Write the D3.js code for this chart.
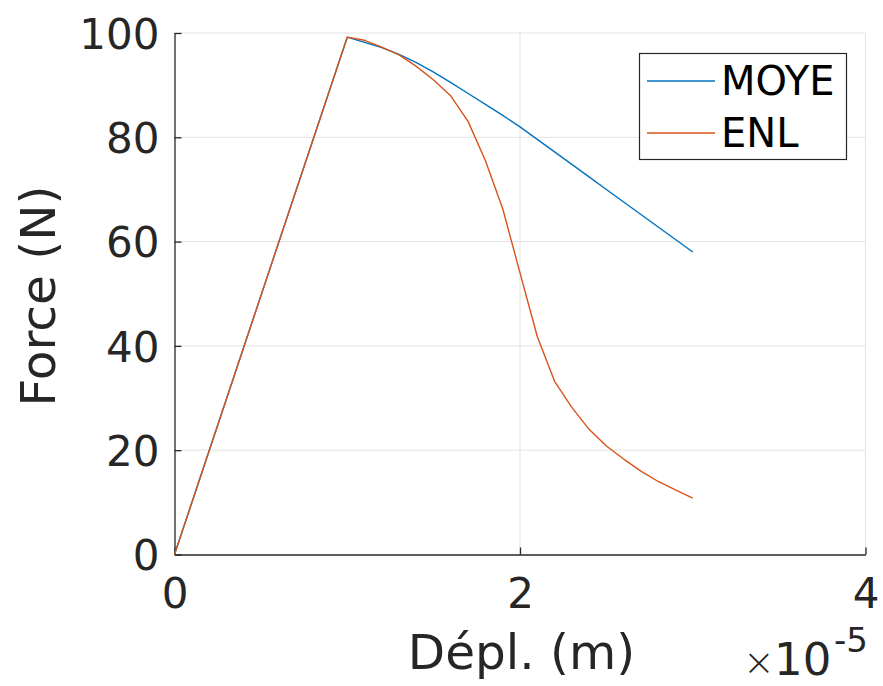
<!DOCTYPE html>
<html><head><meta charset="utf-8">
<script src="https://cdn.jsdelivr.net/npm/d3@7/dist/d3.min.js"></script>
<style>body{margin:0;background:#fff}svg{display:block}text{font-family:"DejaVu Sans",sans-serif}</style>
</head><body>
<script>
// displacement in units of 1e-5 m
const xMoye = [0, 1.0, 1.1, 1.2, 1.3, 1.4, 1.5, 1.6, 1.7, 1.8, 1.9, 2.0, 2.1, 2.2, 2.3, 2.4, 2.5, 2.6, 2.7, 2.8, 2.9, 3.0];
const yMoye = [0, 99.2, 98.2, 97.2, 95.9, 94.3, 92.5, 90.5, 88.4, 86.3, 84.2, 82.0, 79.6, 77.2, 74.8, 72.4, 70.0, 67.6, 65.2, 62.8, 60.4, 58.0];
const xEnl  = [0, 1.0, 1.1, 1.2, 1.3, 1.4, 1.5, 1.6, 1.7, 1.8, 1.9, 2.0, 2.1, 2.2, 2.3, 2.4, 2.5, 2.6, 2.7, 2.8, 2.9, 3.0];
const yEnl  = [0, 99.2, 98.6, 97.3, 95.8, 93.6, 91.0, 87.9, 83.0, 75.5, 66.3, 54.0, 41.8, 33.2, 28.2, 24.0, 20.8, 18.3, 16.0, 14.0, 12.4, 10.8];
const seriesNames = ["MOYE", "ENL"];
const seriesColors = ["#0072BD", "#D95319"];
const xTicks = [0, 2, 4];
const yTicks = [0, 20, 40, 60, 80, 100];

const W = 883, H = 686;
const svg = d3.select("body").append("svg").attr("width", W).attr("height", H);
const x = d3.scaleLinear().domain([0, 4]).range([174.5, 865.5]);
const y = d3.scaleLinear().domain([0, 100]).range([554.5, 33]);
const ink = "#262626";

// grid
svg.append("g").selectAll("line").data(xTicks.slice(1)).join("line")
  .attr("x1", d => x(d)).attr("x2", d => x(d)).attr("y1", y(0)).attr("y2", y(100))
  .attr("stroke", "#e3e3e3").attr("stroke-width", 1);
svg.append("g").selectAll("line").data(yTicks.slice(1)).join("line")
  .attr("x1", x(0)).attr("x2", x(4)).attr("y1", d => y(d)).attr("y2", d => y(d))
  .attr("stroke", "#e3e3e3").attr("stroke-width", 1);

// axes
const xAxis = d3.axisBottom(x).tickValues(xTicks).tickFormat(d3.format("d")).tickSizeInner(-7).tickSizeOuter(0).tickPadding(24);
const gx = svg.append("g").attr("transform", `translate(0,${y(0)})`).call(xAxis);
const yAxis = d3.axisLeft(y).tickValues(yTicks).tickFormat(d3.format("d")).tickSizeInner(-7).tickSizeOuter(0).tickPadding(15);
const gy = svg.append("g").attr("transform", `translate(${x(0)},0)`).call(yAxis);
[gx, gy].forEach(g => {
  g.selectAll("path").attr("stroke", ink).attr("stroke-width", 1.3);
  g.selectAll("line").attr("stroke", ink).attr("stroke-width", 1.3);
  g.selectAll("text").attr("fill", ink).attr("font-size", 42).attr("font-family", "DejaVu Sans");
});
gx.selectAll("text").attr("dy", "0.71em");
gy.selectAll("text").attr("dy", "0.36em");

// lines
const line = d3.line().x(d => x(d[0])).y(d => y(d[1]));
const dataSets = [d3.zip(xMoye, yMoye), d3.zip(xEnl, yEnl)];
svg.append("g").selectAll("path").data(dataSets).join("path")
  .attr("d", line).attr("fill", "none")
  .attr("stroke", (d, i) => seriesColors[i]).attr("stroke-width", 1.4)
  .attr("stroke-linejoin", "round");

// axis labels
svg.append("text").attr("x", 521.5).attr("y", 669).attr("text-anchor", "middle")
  .attr("font-size", 48.5).attr("fill", ink).text("Dépl. (m)");
svg.append("text").attr("transform", `translate(55,296) rotate(-90)`).attr("text-anchor", "middle")
  .attr("font-size", 48.5).attr("fill", ink).text("Force (N)");
// exponent
svg.append("text").attr("x", 743).attr("y", 675).attr("fill", ink).attr("font-size", 38)
  .attr("font-weight", 200).text("×");
svg.append("text").attr("x", 774).attr("y", 675).attr("fill", ink).attr("font-size", 45).text("10");
svg.append("text").attr("x", 834).attr("y", 652).attr("fill", ink).attr("font-size", 34).text("-5");

// legend
const lg = svg.append("g");
lg.append("rect").attr("x", 639.5).attr("y", 53.5).attr("width", 207).attr("height", 106)
  .attr("fill", "#fff").attr("stroke", ink).attr("stroke-width", 1.2);
seriesNames.forEach((n, i) => {
  const yy = 81 + i * 52;
  lg.append("line").attr("x1", 647).attr("x2", 715).attr("y1", yy).attr("y2", yy)
    .attr("stroke", seriesColors[i]).attr("stroke-width", 1.4);
  lg.append("text").attr("x", 721).attr("y", yy).attr("dy", "0.36em")
    .attr("font-size", 40).attr("fill", "#000").text(n);
});
</script>
</body></html>
